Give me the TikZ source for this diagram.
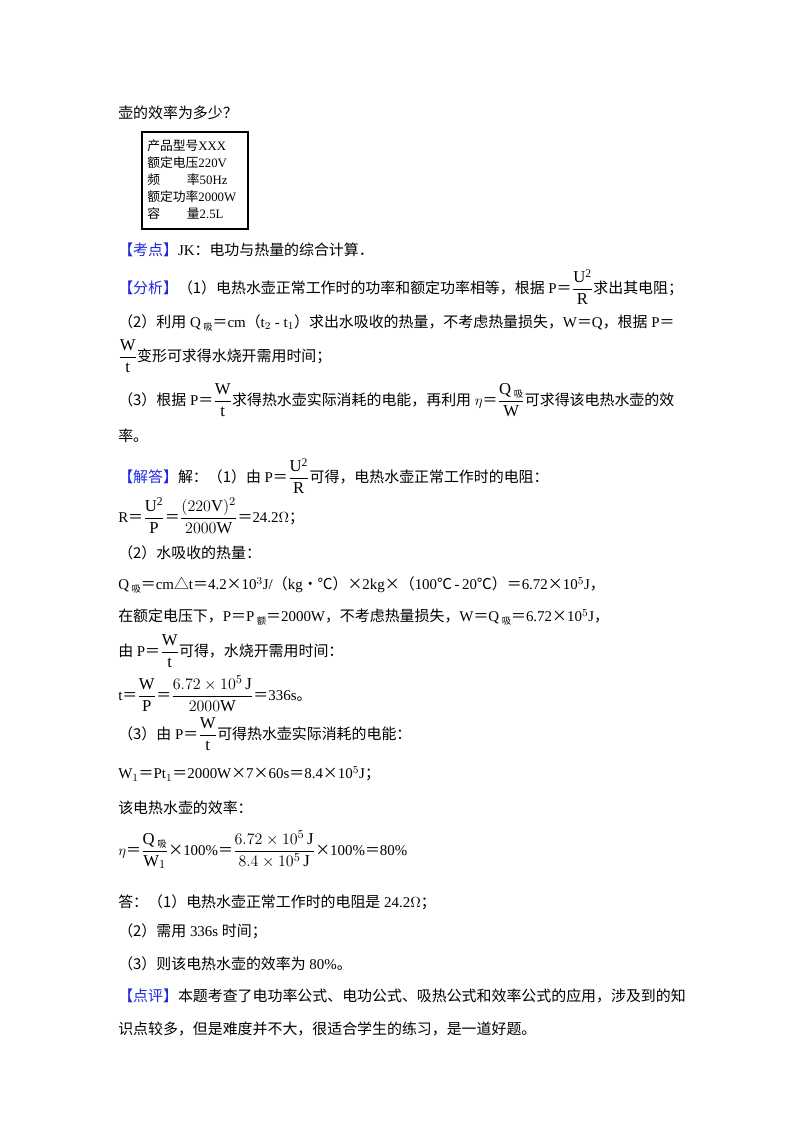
\documentclass[tikz,border=0pt]{standalone}
\usepackage{fontspec}
\usepackage{amsmath}
\setmainfont{Liberation Serif}
\newfontfamily\cjk{Noto Sans CJK SC}
\newcommand{\zh}[1]{{\cjk #1}}
\newcommand{\sub}[1]{\,\raisebox{-2pt}{\zh{\scriptsize #1}}}
\newcommand{\fr}[2]{{\fontsize{12.5}{14}\selectfont$\dfrac{\mathrm{#1}}{\mathrm{#2}}$}}
\newcommand{\bfr}[2]{{\fontsize{12.5}{14}\selectfont$\dfrac{#1}{#2}$}}
\definecolor{kb}{RGB}{30,40,220}
\newcommand{\hd}[1]{\textcolor{kb}{\zh{【#1】}}}
\begin{document}
\begin{tikzpicture}[x=0.75pt,y=-0.75pt,
  t/.style={anchor=west,inner sep=0pt,font=\fontsize{11.2}{13}\selectfont}]
\useasboundingbox (0,0) rectangle (800,1132);
\node[t] (l1) at (118,113) {\zh{壶的效率为多少？}};
\draw[line width=1pt] (142,132) rectangle (248,229);
\node[anchor=north west,inner sep=0pt,align=left,font=\fontsize{9.6}{12.75}\selectfont] (box) at (147,139)
 {\zh{产品型号}XXX\\ \zh{额定电压}220V\\ \zh{频\hspace{2.1em}率}50Hz\\ \zh{额定功率}2000W\\ \zh{容\hspace{2.1em}量}2.5L};
\node[t] (kd) at (118,250) {\hd{考点}JK\zh{：电功与热量的综合计算．}};
\node[t] (fx1) at (118,287) {\hd{分析}\zh{（1）电热水壶正常工作时的功率和额定功率相等，根据} P\zh{＝}\fr{U^2}{R}\zh{求出其电阻；}};
\node[t] (fx2) at (118,323) {\zh{（2）利用} Q\sub{吸}\zh{＝}cm\zh{（}t$_2$ - t$_1$\zh{）求出水吸收的热量，不考虑热量损失，}W\zh{＝}Q\zh{，根据} P\zh{＝}};
\node[t] (fx3) at (118,356) {\fr{W}{t}\zh{变形可求得水烧开需用时间；}};
\node[t] (fx4) at (118,400) {\zh{（3）根据} P\zh{＝}\fr{W}{t}\zh{求得热水壶实际消耗的电能，再利用} $\eta$\zh{＝}\bfr{\mathrm{Q}\text{\sub{吸}}}{\mathrm{W}}\zh{可求得该电热水壶的效}};
\node[t] (fx5) at (118,436) {\zh{率。}};
\node[t] (jd1) at (118,476) {\hd{解答}\zh{解：（1）由} P\zh{＝}\fr{U^2}{R}\zh{可得，电热水壶正常工作时的电阻：}};
\node[t] (jd2) at (118,516) {R\zh{＝}\fr{U^2}{P}\zh{＝}\bfr{(220\mathrm{V})^2}{2000\mathrm{W}}\zh{＝}24.2$\Omega$\zh{；}};
\node[t] (jd3) at (118,553) {\zh{（2）水吸收的热量：}};
\node[t] (jd4) at (118,585) {Q\sub{吸}\zh{＝}cm\zh{△}t\zh{＝}4.2\zh{×}10$^3$J/\zh{（}kg\zh{•℃）×}2kg\zh{×（}100\zh{℃}\,-\,20\zh{℃）＝}6.72\zh{×}10$^5$J\zh{，}};
\node[t] (jd5) at (118,617) {\zh{在额定电压下，}P\zh{＝}P\sub{额}\zh{＝}2000W\zh{，不考虑热量损失，}W\zh{＝}Q\sub{吸}\zh{＝}6.72\zh{×}10$^5$J\zh{，}};
\node[t] (jd6) at (118,651) {\zh{由} P\zh{＝}\fr{W}{t}\zh{可得，水烧开需用时间：}};
\node[t] (jd7) at (118,694) {t\zh{＝}\fr{W}{P}\zh{＝}\bfr{6.72\times10^5\,\mathrm{J}}{2000\mathrm{W}}\zh{＝}336s\zh{。}};
\node[t] (jd8) at (118,734) {\zh{（3）由} P\zh{＝}\fr{W}{t}\zh{可得热水壶实际消耗的电能：}};
\node[t] (jd9) at (118,774) {W$_1$\zh{＝}Pt$_1$\zh{＝}2000W\zh{×}7\zh{×}60s\zh{＝}8.4\zh{×}10$^5$J\zh{；}};
\node[t] (jd10) at (118,808) {\zh{该电热水壶的效率：}};
\node[t] (jd11) at (118,850) {$\eta$\zh{＝}\bfr{\mathrm{Q}\text{\sub{吸}}}{\mathrm{W}_1}\zh{×}100\%\zh{＝}\bfr{6.72\times10^5\,\mathrm{J}}{8.4\times10^5\,\mathrm{J}}\zh{×}100\%\zh{＝}80\%};
\node[t] (a1) at (118,902) {\zh{答：（1）电热水壶正常工作时的电阻是} 24.2$\Omega$\zh{；}};
\node[t] (a2) at (118,931) {\zh{（2）需用} 336s \zh{时间；}};
\node[t] (a3) at (118,964) {\zh{（3）则该电热水壶的效率为} 80\%\zh{。}};
\node[t] (dp1) at (118,996) {\hd{点评}\zh{本题考查了电功率公式、电功公式、吸热公式和效率公式的应用，涉及到的知}};
\node[t] (dp2) at (118,1029) {\zh{识点较多，但是难度并不大，很适合学生的练习，是一道好题。}};
\end{tikzpicture}
\end{document}
